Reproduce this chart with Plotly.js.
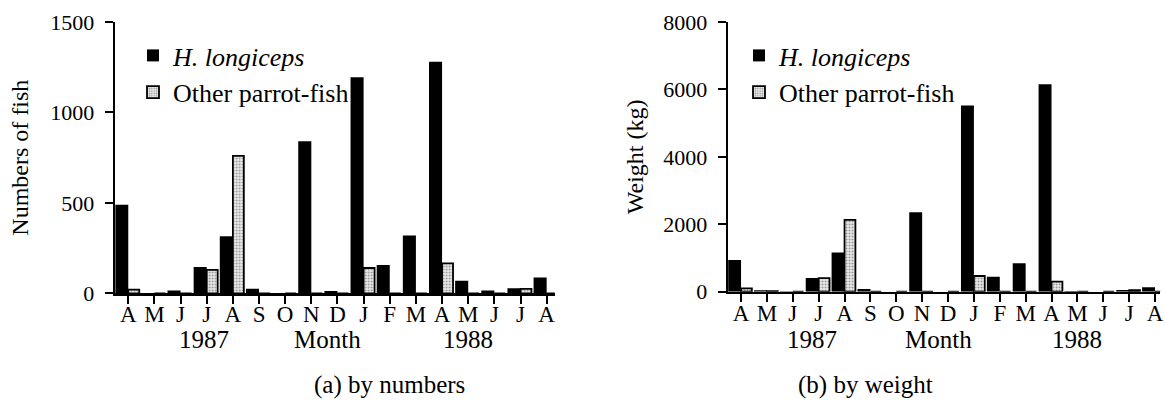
<!DOCTYPE html>
<html>
<head>
<meta charset="utf-8">
<script src="https://cdn.plot.ly/plotly-3.0.1.min.js"></script>
<style>html,body{margin:0;padding:0;background:#fff;}#chart{width:1165px;height:400px;}</style>
</head>
<body>
<div id="chart"></div>
<script>
// Months from April 1987 to August 1988
const months = ['A','M','J','J','A','S','O','N','D','J','F','M','A','M','J','J','A'];
// (a) by numbers
const numbersLongiceps = [490, 0, 15, 145, 315, 25, 0, 840, 13, 1195, 157, 320, 1280, 70, 15, 28, 88];
const numbersOther     = [20, 0, 0, 130, 760, 0, 0, 0, 0, 140, 0, 0, 165, 0, 0, 25, 0];
// (b) by weight (kg)
const weightLongiceps = [940, 40, 10, 410, 1160, 80, 0, 2360, 0, 5520, 445, 842, 6150, 20, 0, 50, 130];
const weightOther     = [100, 15, 0, 400, 2130, 0, 0, 0, 0, 465, 0, 0, 297, 0, 0, 45, 0];

const seriesNames = ['<i>H. longiceps</i>', 'Other parrot-fish'];
const yTitles = ['Numbers of fish', 'Weight (kg)'];
const captions = ['(a) by numbers', '(b) by weight'];
const yearLabels = ['1987', '1988'];

const idx = months.map((m, i) => i);
const FONT = 'Liberation Serif';

const blackBar = (y, xa, ya, lg) => ({
  type: 'bar', x: idx, y: y, xaxis: xa, yaxis: ya, legend: lg,
  name: seriesNames[0], offset: -0.5, width: 0.5,
  marker: {color: '#000', line: {width: 0}}, legendgroup: lg + 'a'
});
const greyBar = (y, xa, ya, lg) => ({
  type: 'bar', x: idx, y: y, xaxis: xa, yaxis: ya, legend: lg,
  name: seriesNames[1], offset: 0, width: 0.42,
  marker: {color: '#d9d9d9', line: {color: '#000', width: 1.8},
           pattern: {shape: '.', bgcolor: '#ececec', fgcolor: '#909090', size: 3, solidity: 0.3}},
  legendgroup: lg + 'b'
});

const data = [
  blackBar(numbersLongiceps, 'x', 'y', 'legend'),
  greyBar(numbersOther, 'x', 'y', 'legend'),
  blackBar(weightLongiceps, 'x2', 'y2', 'legend2'),
  greyBar(weightOther, 'x2', 'y2', 'legend2')
];

const xCommon = {
  tickvals: idx, ticktext: months, ticks: 'outside', ticklen: 8, tickwidth: 2,
  tickcolor: '#000', showline: true, linecolor: '#000', linewidth: 2.5,
  showgrid: false, zeroline: false, tickfont: {family: FONT, size: 23, color: '#000'},
  ticklabelstandoff: -9, fixedrange: true
};
const yCommon = {
  ticks: 'outside', ticklen: 8, tickwidth: 2, tickcolor: '#000', showline: true,
  linecolor: '#000', linewidth: 2.5, showgrid: false, zeroline: false,
  tickfont: {family: FONT, size: 22, color: '#000'}, ticklabelstandoff: 6,
  fixedrange: true
};

const legendCommon = {
  bgcolor: 'rgba(0,0,0,0)', font: {family: FONT, size: 26, color: '#000'},
  xanchor: 'left', yanchor: 'top', traceorder: 'grouped', tracegroupgap: 0
};

const annFont = {family: FONT, size: 25, color: '#000'};
const yr = 1 - 339/400, cap = 1 - 385/400;
const annotations = [
  {text: yearLabels[0], xref: 'x', yref: 'paper', x: 2.9, y: yr, yanchor: 'middle', showarrow: false, font: annFont},
  {text: 'Month', xref: 'x', yref: 'paper', x: 7.6, y: yr, yanchor: 'middle', showarrow: false, font: annFont},
  {text: yearLabels[1], xref: 'x', yref: 'paper', x: 13.0, y: yr, yanchor: 'middle', showarrow: false, font: annFont},
  {text: captions[0], xref: 'paper', yref: 'paper', x: 312/1165, y: cap, yanchor: 'middle', showarrow: false, font: annFont},
  {text: yearLabels[0], xref: 'x2', yref: 'paper', x: 2.75, y: yr, yanchor: 'middle', showarrow: false, font: annFont},
  {text: 'Month', xref: 'x2', yref: 'paper', x: 7.65, y: yr, yanchor: 'middle', showarrow: false, font: annFont},
  {text: yearLabels[1], xref: 'x2', yref: 'paper', x: 13.0, y: yr, yanchor: 'middle', showarrow: false, font: annFont},
  {text: captions[1], xref: 'paper', yref: 'paper', x: 935/1165, y: cap, yanchor: 'middle', showarrow: false, font: annFont}
];

const layout = {
  width: 1165, height: 400,
  margin: {l: 0, r: 0, t: 0, b: 0},
  paper_bgcolor: '#fff', plot_bgcolor: '#fff',
  barmode: 'overlay',
  font: {family: FONT, color: '#000'},
  xaxis: Object.assign({}, xCommon, {domain: [115.2/1165, 554.5/1165], range: [-0.5, 16.3], anchor: 'y'}),
  yaxis: Object.assign({}, yCommon, {domain: [1 - 293.3/400, 1 - 22/400], range: [0, 1500], tickvals: [0, 500, 1000, 1500], anchor: 'x',
    title: {text: yTitles[0], font: {family: FONT, size: 24, color: '#000'}, standoff: 15}}),
  xaxis2: Object.assign({}, xCommon, {domain: [728.1/1165, 1160.2/1165], range: [-0.5, 16.2], anchor: 'y2'}),
  yaxis2: Object.assign({}, yCommon, {domain: [1 - 291.7/400, 1 - 22/400], range: [0, 8000], tickvals: [0, 2000, 4000, 6000, 8000], anchor: 'x2',
    title: {text: yTitles[1], font: {family: FONT, size: 24, color: '#000'}, standoff: 13}}),
  legend: Object.assign({}, legendCommon, {x: 133/1165, y: 1 - 32/400}),
  legend2: Object.assign({}, legendCommon, {x: 739/1165, y: 1 - 32/400}),
  annotations: annotations
};

Plotly.newPlot('chart', data, layout, {staticPlot: true, displayModeBar: false});
</script>
</body>
</html>
